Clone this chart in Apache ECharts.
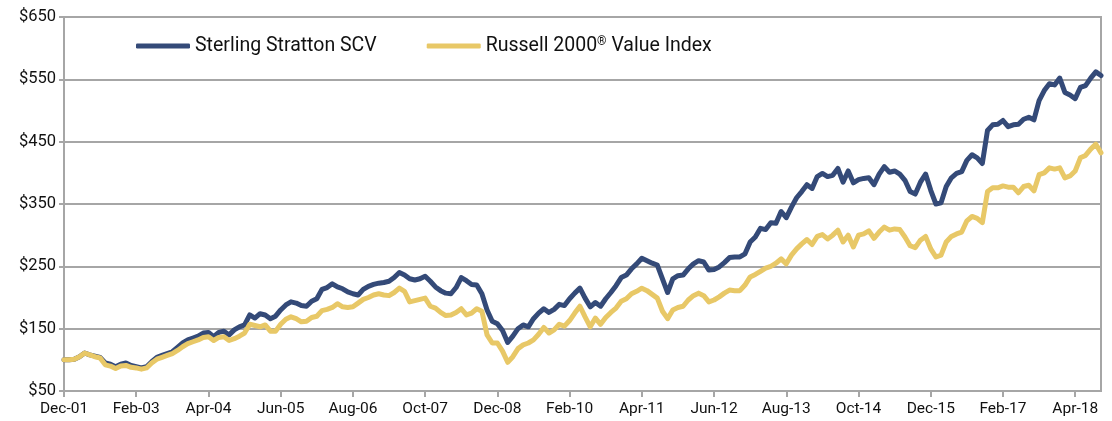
<!DOCTYPE html>
<html>
<head>
<meta charset="utf-8">
<script src="https://cdn.jsdelivr.net/npm/echarts@6/dist/echarts.min.js"></script>
<style>
  html, body { margin: 0; padding: 0; background: #fff; }
  #growthChart { width: 1112px; height: 421px; }
</style>
</head>
<body>
<div id="growthChart"></div>
<script>
// growth of $100, monthly, Dec-01 .. Sep-18
var monthNames = ['Jan', 'Feb', 'Mar', 'Apr', 'May', 'Jun', 'Jul', 'Aug', 'Sep', 'Oct', 'Nov', 'Dec'];

var scvValues = [
    100, 100, 101, 105, 111, 108, 106, 104, 95, 93,
    89, 93, 95, 91, 89, 87, 89, 97, 104, 107,
    110, 113, 120, 127, 132, 135, 138, 143, 144, 137,
    144, 146, 140, 148, 153, 156, 172, 167, 174, 172,
    166, 170, 180, 188, 193, 191, 187, 186, 194, 198,
    213, 216, 222, 217, 214, 209, 206, 204, 213, 218,
    221, 223, 224, 226, 232, 240, 236, 230, 228, 230,
    234, 226, 217, 211, 207, 206, 216, 232, 227, 221,
    220, 206, 180, 162, 158, 147, 128, 138, 150, 156,
    153, 166, 175, 182, 176, 181, 189, 187, 198, 207,
    215, 199, 185, 192, 186, 198, 208, 219, 232, 236,
    246, 254, 263, 259, 255, 252, 230, 208, 230, 235,
    236, 246, 254, 259, 257, 244, 245, 249, 256, 264,
    265, 265, 270, 289, 297, 311, 309, 320, 319, 338,
    328, 345, 360, 370, 381, 375, 394, 399, 394, 396,
    407, 385, 403, 384, 389, 391, 392, 381, 398, 410,
    401, 403, 398, 388, 370, 366, 385, 398, 372, 350,
    352, 378, 392, 399, 402, 420, 429, 424, 415, 468,
    477, 478, 484, 474, 477, 478, 486, 489, 485, 516,
    532, 543, 541, 552, 529, 525, 519, 537, 540, 552,
    562, 556
];

var r2vValues = [
    100, 100, 101, 105, 111, 108, 105, 103, 92, 90,
    86, 90, 91, 88, 87, 85, 87, 95, 101, 104,
    107, 110, 115, 121, 126, 129, 132, 136, 137, 131,
    136, 137, 131, 134, 138, 143, 157, 155, 153, 156,
    146, 146, 157, 165, 169, 166, 161, 162, 168, 170,
    179, 181, 184, 190, 185, 184, 185, 191, 197, 200,
    204, 206, 204, 203, 208, 215, 210, 193, 195, 197,
    199, 186, 183, 176, 171, 172, 176, 182, 172, 175,
    182, 178, 140, 127, 127, 114, 96, 105, 118, 124,
    127, 132, 141, 152, 143, 148, 157, 154, 163, 175,
    186, 169, 153, 167, 157, 168, 176, 183, 194, 198,
    206, 210, 215, 211, 205, 199, 178, 166, 180, 184,
    186, 196, 203, 207, 203, 193, 196, 201, 207, 212,
    211, 211, 220, 233, 237, 242, 247, 250, 255, 262,
    254, 268, 278, 286, 293, 285, 298, 301, 294, 300,
    308, 289, 300, 281, 300, 302, 307, 295, 305, 313,
    308, 310, 309, 297, 283, 280, 292, 298, 278, 265,
    268, 289, 298, 302, 305, 323, 330, 327, 320, 370,
    376, 376, 379, 377, 377, 368, 378, 380, 371, 397,
    400, 408, 406, 408, 392, 395, 403, 424, 428, 438,
    446, 432
];

var months = [];
for (var i = 0; i < scvValues.length; i++) {
    var m = (11 + i) % 12;
    var y = 1 + Math.floor((11 + i) / 12);
    months.push(monthNames[m] + '-' + (y < 10 ? '0' + y : '' + y));
}

var FONT = 'Roboto';
var GRID_COLOR = '#a6a6a6';
var TEXT_COLOR = '#111111';

var chart = echarts.init(document.getElementById('growthChart'));
chart.setOption({
    animation: false,
    textStyle: {fontFamily: FONT},
    grid: {
        left: 64, right: 11, top: 17, bottom: 30,
        show: true, borderColor: GRID_COLOR, borderWidth: 2
    },
    legend: {
        left: 131, top: 31,
        itemWidth: 54, itemHeight: 5,
        itemGap: 50,
        icon: 'roundRect',
        textStyle: {
            fontFamily: FONT, fontSize: 19.5, color: TEXT_COLOR,
            rich: {
                a: {fontFamily: FONT, fontSize: 19.5, color: TEXT_COLOR},
                sup: {fontFamily: FONT, fontSize: 12, color: TEXT_COLOR, padding: [0, 0, 8, 0]}
            }
        },
        formatter: function (name) {
            if (name.indexOf('®') > -1) {
                var parts = name.split('®');
                return '{a|' + parts[0] + '}{sup|®}{a|' + parts[1] + '}';
            }
            return name;
        },
        data: ['Sterling Stratton SCV', 'Russell 2000® Value Index']
    },
    xAxis: {
        type: 'category',
        data: months,
        boundaryGap: false,
        axisLine: {lineStyle: {color: GRID_COLOR, width: 2}},
        axisTick: {interval: 13, length: 6, lineStyle: {color: GRID_COLOR, width: 2}},
        axisLabel: {interval: 13, color: TEXT_COLOR, fontSize: 15.5, margin: 10, fontFamily: FONT},
        splitLine: {show: false}
    },
    yAxis: {
        type: 'value',
        min: 50, max: 650, interval: 100,
        axisLine: {show: true, lineStyle: {color: GRID_COLOR, width: 2}},
        axisTick: {show: true, length: 5, lineStyle: {color: GRID_COLOR, width: 2}},
        axisLabel: {
            color: TEXT_COLOR, fontSize: 16.5, margin: 8, fontFamily: FONT,
            formatter: function (v) { return '$' + v; }
        },
        splitLine: {lineStyle: {color: GRID_COLOR, width: 2}}
    },
    series: [
        {
            name: 'Sterling Stratton SCV',
            type: 'line',
            data: scvValues,
            showSymbol: false,
            color: '#344a78',
            lineStyle: {width: 5, color: '#344a78', cap: 'round', join: 'round'}
        },
        {
            name: 'Russell 2000® Value Index',
            type: 'line',
            data: r2vValues,
            showSymbol: false,
            color: '#e8c867',
            lineStyle: {width: 5, color: '#e8c867', cap: 'round', join: 'round'}
        }
    ]
});
</script>
</body>
</html>
